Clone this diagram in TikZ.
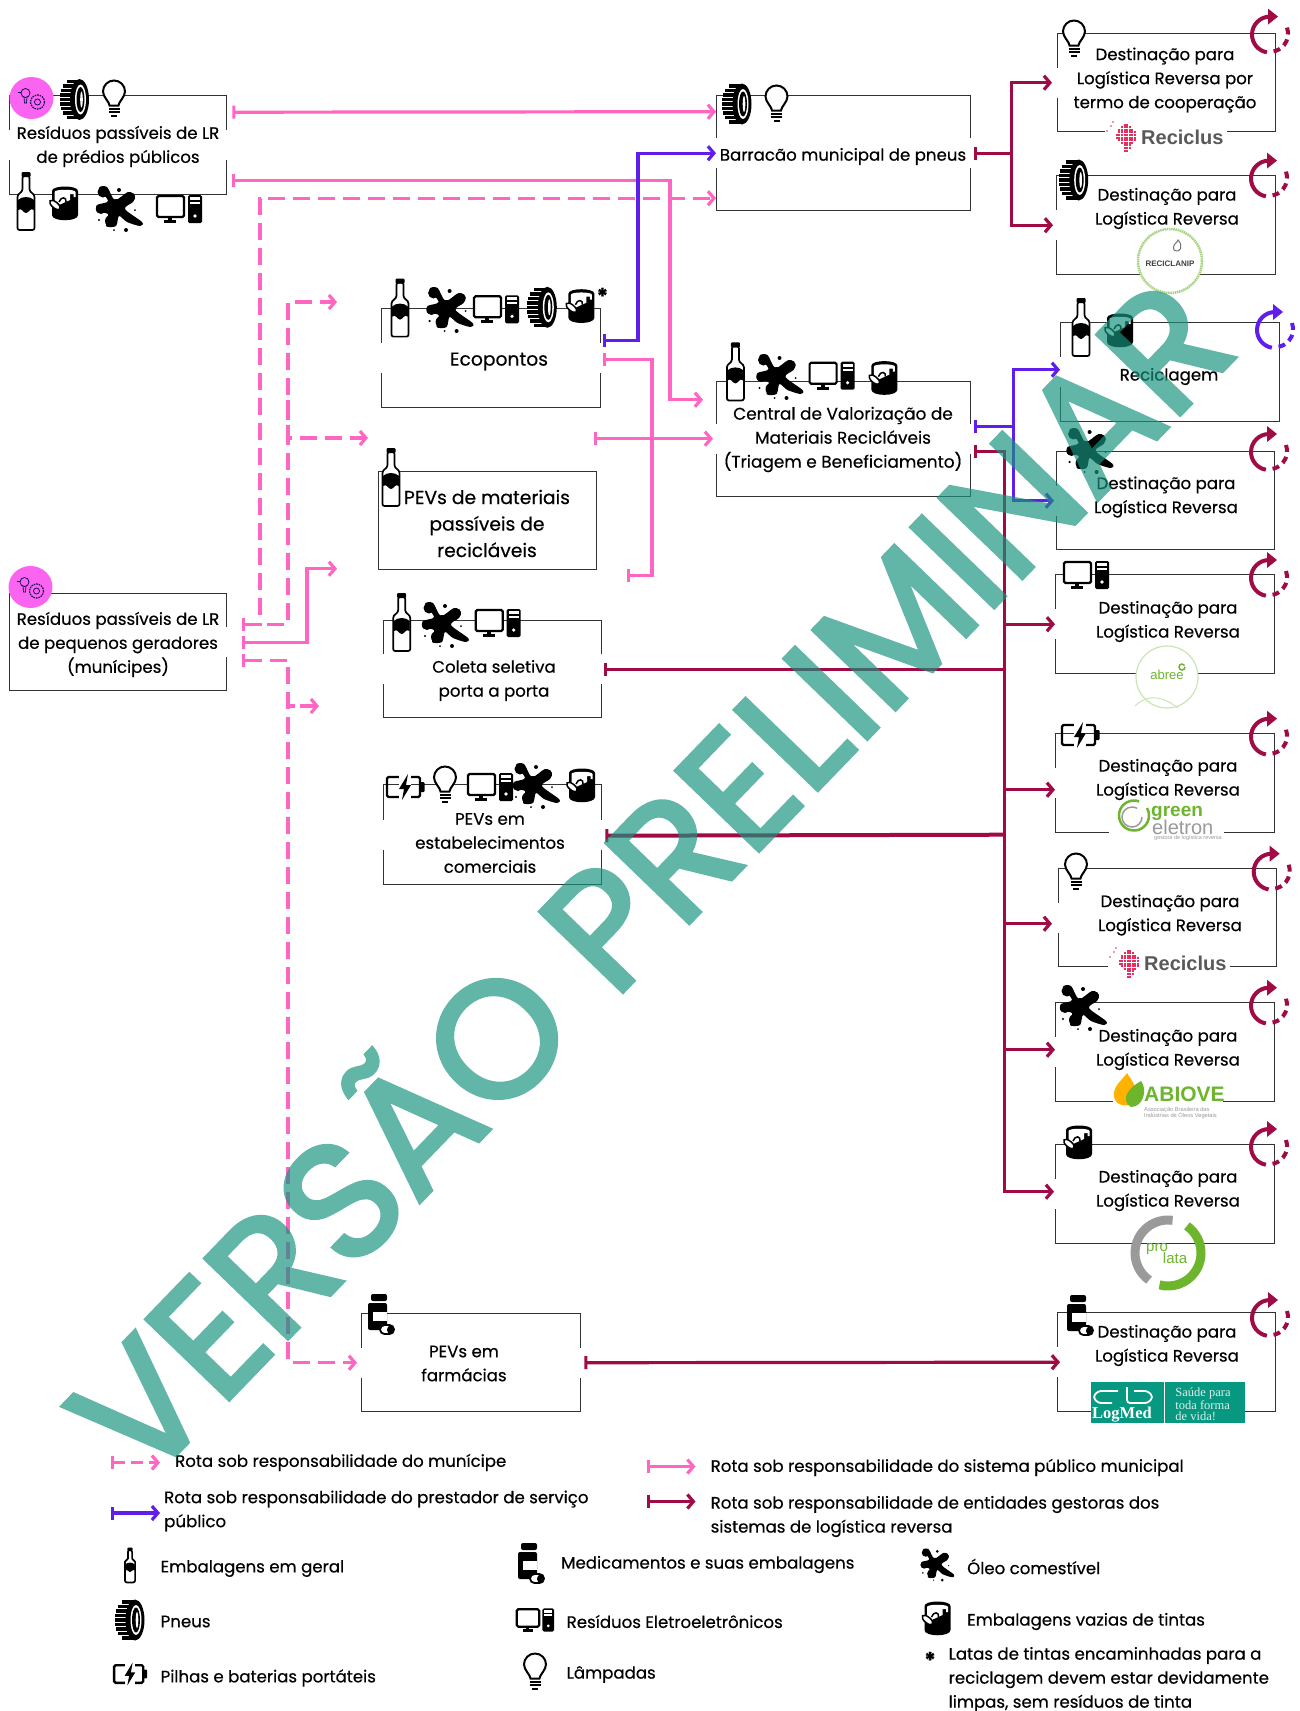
\documentclass[tikz,border=0pt]{standalone}
\usepackage{fontspec}
\setmainfont[FakeBold=0.45]{Poppins}
\newfontfamily\logosans{Liberation Sans}
\newfontfamily\logoserif{Liberation Serif}
\newfontfamily\marcafont[FakeBold=2.6]{Poppins}
\usetikzlibrary{arrows.meta}
\definecolor{rosa}{HTML}{FF66C4}
\definecolor{roxo}{HTML}{5F1EEB}
\definecolor{vinho}{HTML}{A00A45}
\definecolor{marcador}{HTML}{FB64F0}
\definecolor{verdelogo}{HTML}{6CB52D}
\definecolor{verdemarca}{HTML}{16937D}
\definecolor{verdelog}{HTML}{069880}
\definecolor{cinzalogo}{HTML}{9A9A9A}
\definecolor{pontos}{HTML}{E5305F}
\tikzset{ponta/.tip={Straight Barb[length=6pt,width=14pt,line width=3.2pt]}}
\tikzset{barra/.tip={Bar[width=13pt,line width=3pt]}}
\tikzset{caixa/.style={draw=black!80,line width=1.4,minimum width=219,minimum height=99,anchor=north west,inner sep=0}}
\tikzset{rotulo/.style={font=\fontsize{16.6}{24}\selectfont,align=center,inner sep=0,yshift=-1.5pt}}
\tikzset{legenda/.style={font=\fontsize{16.6}{24}\selectfont,align=left,anchor=west,inner sep=0,yshift=-1.5pt}}
\tikzset{rota/.style={line width=3.2,-ponta}}
\tikzset{rotamun/.style={rota,rosa,dash pattern=on 17pt off 8pt}}
\tikzset{rotapub/.style={rota,rosa}}
\tikzset{rotapre/.style={rota,roxo}}
\tikzset{rotagest/.style={rota,vinho}}
\tikzset{garrafa/.pic={
  \draw[fill=white,line width=1.7,rounded corners=2] (-3.5,-25) -- (-3.5,-14) .. controls (-3.5,-8) and (-8.5,-8) .. (-8.5,-2) -- (-8.5,29) -- (8.5,29) -- (8.5,-2) .. controls (8.5,-8) and (3.5,-8) .. (3.5,-14) -- (3.5,-25) -- cycle;
  \fill[rounded corners=1] (-4.5,-29) rectangle (4.5,-24);
  \fill (-8,-1) .. controls (-4,-5) and (4,-5) .. (8,-1) -- (8,9) .. controls (4,6) and (3,12) .. (0,12) .. controls (-3,12) and (-4,6) .. (-8,9) -- cycle;
}}
\tikzset{pneu/.pic={
  \fill (5,0) ellipse (9.5 and 20.5);
  \foreach \f/\w in {-18/-8,-13.5/-12,-9/-14,-4.5/-15,0/-15,4.5/-15,9/-14,13.5/-12,18/-8} \fill (\w,\f-1.8) rectangle (5,\f+1.8);
  \fill[white] (6,0) ellipse (5.5 and 15);
  \fill (6,0) ellipse (4 and 12.5);
  \fill[white] (7,0) ellipse (1.3 and 8);
}}
\tikzset{lampada/.pic={
  \draw[fill=white,line width=2] (-4.5,5.5) .. controls (-4.5,2) and (-11,-3) .. (-11,-8.5) arc (180:360:11) .. controls (11,-3) and (4.5,2) .. (4.5,5.5) -- cycle;
  \fill (-5.5,7.5) rectangle (5.5,9.5);
  \fill (-5.5,11) rectangle (5.5,13);
  \fill (-3,14.5) rectangle (3,16.5);
}}
\tikzset{oleo/.pic={
  \fill plot[smooth cycle,tension=.5] coordinates {(-19,-21)(-11,-22)(-3,-9)(10,-17)(17,-13)(15,-7)(7,0)(24,13)(22,17)(9,13)(1,7)(-2,17)(-12,17)(-10,5)(-21,3)(-21,-4)(-10,-8)};
  \fill (-15,-17) circle (5.5);
  \fill (12,-12) circle (5);
  \fill (-7,12) circle (6);
  \fill (-17,0) circle (5);
  \fill (-2,-2) circle (8);
  \fill (1,-19) circle (2);
  \fill (-19,11) circle (1.2);
  \fill (8,21) circle (2);
  \fill (-4,21) circle (1);
  \fill (17,1) circle (1);
}}
\tikzset{computador/.pic={
  \draw[line width=2.2,fill=white,rounded corners=1.5] (-22,-13) rectangle (5,8);
  \fill (-11,8) rectangle (-7,11);
  \fill (-15,11) rectangle (-3,14);
  \fill[rounded corners=1.5] (9,-14) rectangle (23,14);
  \fill[white] (11,-12) rectangle (21,-9);
  \fill[white] (11,-7) rectangle (21,-5);
  \fill[white] (16,7) circle (1.8);
}}
\tikzset{lata/.pic={
  \fill (-12,-13) -- (-12,11) .. controls (-12,18) and (14,18) .. (14,11) -- (14,-13) .. controls (14,-19) and (-12,-19) .. (-12,-13) -- cycle;
  \fill[white] (-9.5,-12) .. controls (-9.5,-15) and (11.5,-15) .. (11.5,-12) -- (11.5,-7) -- (9.5,-7) -- (9.5,-10) -- (6,-10) -- (6,-4) -- (-9.5,3) -- cycle;
  \draw[line width=1.5,fill=white,rotate around={-40:(-9,1)}] (-9,1) ellipse (6.5 and 3);
  \draw[line width=1.5] (-5,-2) .. controls (-3,-8) and (3,-7) .. (2,-2);
}}
\tikzset{bateria/.pic={
  \draw[line width=2.4,rounded corners=1.5] (-18,-10) rectangle (15,10);
  \fill[rounded corners=1] (15,-5) rectangle (19.5,5);
  \fill[white] (-6,-13) rectangle (6,13);
  \fill (3,-13) -- (-6,2) -- (-1,2) -- (-3,13) -- (6,-2) -- (1,-2) -- cycle;
}}
\tikzset{remedio/.pic={
  \fill[rounded corners=2] (-8,-21) rectangle (8,-14);
  \fill[rounded corners=2] (-11,-12) rectangle (8,15);
  \fill[white] (-6,-3) rectangle (8,6);
  \draw[line width=1.8,fill=white,rounded corners=4.5] (1,10) rectangle (15,19);
  \fill[rounded corners=4] (8,10.5) rectangle (15,19);
}}
\tikzset{ciclo/.pic={
  \draw[line width=4,#1] (1,-18) arc (270:100:18);
  \fill[#1] (-1,-26) -- (9,-18) -- (-1,-10) -- cycle;
  \draw[line width=4,#1,dash pattern=on 7pt off 5pt] (18,-7) arc (-20:85:18);
}}
\tikzset{selo/.pic={
  \fill[marcador] (0,0) ellipse (22 and 21);
  \draw[black!70!blue,line width=.7] (-6,-5) circle (4.5);
  \draw[black!70!blue,line width=.7] (-7.5,-1) -- (-7,5) -- (-5,5) -- (-4.5,-1);
  \draw[black!70!blue,line width=1.2,dash pattern=on 1.5pt off 1pt] (6,4) circle (7);
  \draw[black!70!blue,line width=.7] (6,4) circle (3);
  \draw[black!70!blue,line width=.7] (-14,-6) -- (-11,-6);
}}
\tikzset{reciclusmarca/.pic={
  \fill[white] (-16,-17) rectangle (106,12);
  \foreach \y/\a/\b in {-4/1/2,-3/0/3,-2/-1/4,-1/-1/5,0/-2/5,1/-2/5,2/-1/5,3/0/4,4/1/3,5/1/3,6/1/2}
    \foreach \x in {\a,...,\b} \fill[pontos] (\x*2.6,\y*2.6) rectangle ++(1.9,1.9);
  \fill[pontos] (-14,-3) circle (.9);
  \fill[pontos] (-10,-8) circle (.9);
  \fill[pontos] (-8,-12) circle (.9);
  \node[font=\logosans\fontsize{20}{20}\selectfont\bfseries,text=black!65,anchor=west,inner sep=0] (marca) at (20,3) {Reciclus};
}}

\begin{document}
\begin{tikzpicture}[x=1pt,y=-1pt]
\useasboundingbox (0,0) rectangle (1300,1711);
% caixas
\node[caixa,minimum width=217] (predios) at (9,95) {};
\node[caixa,minimum width=254,minimum height=115] (barracao) at (716,95) {};
\node[caixa,minimum width=218,minimum height=98] (termo) at (1057,33) {};
\node[caixa,minimum width=219] (reciclanip) at (1056,175) {};
\node[caixa] (reciclagem) at (1060,322) {};
\node[caixa,minimum width=218,minimum height=98] (destoleo) at (1056,451) {};
\node[caixa,minimum width=254,minimum height=115] (central) at (716,381) {};
\node[caixa] (ecopontos) at (381,308) {};
\node[caixa,minimum width=218,minimum height=98] (pevmat) at (378,471) {};
\node[caixa,minimum width=218,minimum height=97] (coleta) at (383,620) {};
\node[caixa,minimum width=218,minimum height=100] (pevcom) at (383,784) {};
\node[caixa,minimum width=217,minimum height=97] (geradores) at (9,593) {};
\node[caixa,minimum width=219,minimum height=98] (farmacias) at (361,1313) {};
\node[caixa] (abree) at (1055,574) {};
\node[caixa] (greenel) at (1055,733) {};
\node[caixa,minimum width=218,minimum height=98] (reciclus) at (1058,868) {};
\node[caixa] (abiove) at (1055,1002) {};
\node[caixa] (prolata) at (1055,1144) {};
\node[caixa,minimum width=218] (logmed) at (1057,1312) {};
% aberturas nas laterais
\foreach \c in {predios,barracao,termo,reciclanip,reciclagem,destoleo,central,ecopontos,coleta,pevcom,abree,greenel,reciclus,abiove,prolata,logmed,farmacias}
  \draw[white,line width=3] ([yshift=15pt]\c.west) -- ([yshift=-15pt]\c.west);
\foreach \c in {predios,barracao,central,ecopontos,geradores,coleta,pevcom,farmacias}
  \draw[white,line width=3] ([yshift=15pt]\c.east) -- ([yshift=-15pt]\c.east);
% logos
\pic (rc1) at (1121,134) {reciclusmarca};
\pic (rc2) at (1124,960) {reciclusmarca};
\draw[verdelogo!60,fill=white,line width=2.5,dash pattern=on 1.5pt off .7pt] (1170,261) circle (32);
\draw[black!55,line width=1] (1174,250) .. controls (1172,243) and (1178,243) .. (1178,240) .. controls (1184,246) and (1180,254) .. (1174,250);
\node[font=\logosans\fontsize{8}{8}\selectfont\bfseries,text=black!75,inner sep=0] (logoanip) at (1170,264) {RECICLANIP};
\draw[verdelogo!35,fill=white,line width=1.2] (1167,677) circle (31);
\draw[verdelogo!35,line width=1] (1135,706) .. controls (1150,692) and (1165,698) .. (1178,708);
\node[font=\logosans\fontsize{13}{13}\selectfont,text=verdelogo,inner sep=0] (logoabree) at (1167,675) {abree};
\draw[verdelogo,line width=1.5] (1185,667) arc (0:330:3);
\fill[white] (1109,825) rectangle (1224,840);
\draw[verdelogo,line width=2.5] (1147,808) arc (-30:290:15);
\draw[cinzalogo,line width=1.5] (1142,817) arc (0:300:10);
\node[font=\logosans\fontsize{19}{19}\selectfont\bfseries,text=verdelogo,anchor=west,inner sep=0] (logogreen) at (1151,813) {green};
\node[font=\logosans\fontsize{20}{20}\selectfont,text=cinzalogo,anchor=west,inner sep=0] (logoeletron) at (1152,827) {eletron};
\node[font=\logosans\fontsize{5.5}{5.5}\selectfont,text=cinzalogo,anchor=west,inner sep=0] (logogestora) at (1154,838) {gestora de logística reversa};
\fill[white] (1113,1098) rectangle (1223,1120);
\fill[orange!60!yellow] (1127,1073) .. controls (1135,1085) and (1142,1095) .. (1132,1104) .. controls (1124,1108) and (1112,1104) .. (1114,1092) .. controls (1115,1085) and (1122,1080) .. (1127,1073);
\fill[verdelogo] (1141,1081) .. controls (1148,1090) and (1143,1107) .. (1131,1107) .. controls (1120,1100) and (1128,1088) .. (1141,1081);
\node[font=\logosans\fontsize{21}{21}\selectfont\bfseries,text=verdelogo,anchor=west,inner sep=0] (logoabiove) at (1144,1094) {ABIOVE};
\node[font=\logosans\fontsize{5.7}{6.6}\selectfont,text=cinzalogo,align=left,anchor=west,inner sep=0] (logoabsub) at (1144,1113) {Associação Brasileira das\\Indústrias de Óleos Vegetais};
\draw[cinzalogo,line width=9] (1168,1253) ++(278:33) arc (278:125:33);
\draw[verdelogo,line width=9] (1168,1253) ++(-55:33) arc (-55:105:33);
\node[font=\logosans\fontsize{15}{15}\selectfont,text=verdelogo,inner sep=0] (logopro) at (1157,1249) {pro};
\node[font=\logosans\fontsize{15}{15}\selectfont,text=verdelogo,inner sep=0] (logolata) at (1175,1258) {lata};
\fill[verdelog] (1091,1382) rectangle (1245,1423);
\draw[white,line width=1] (1164,1382) -- (1164,1423);
\draw[white,line width=1.8,rounded corners=3] (1118,1391) -- (1098,1391) -- (1093,1397) -- (1098,1403) -- (1112,1403);
\draw[white,line width=1.8,rounded corners=3] (1127,1387) -- (1127,1403) -- (1148,1403) -- (1153,1397) -- (1148,1391) -- (1134,1391);
\node[font=\logoserif\fontsize{16.5}{16.5}\selectfont\bfseries,text=white,inner sep=0] (logolog) at (1122,1415) {LogMed};
\node[font=\logoserif\fontsize{12.5}{11}\selectfont,text=white!85!verdelog,align=left,inner sep=0] (logosaude) at (1203,1404) {Saúde para\\toda forma\\de vida!};
% textos
\node[rotulo] (tpredios) at (118,145) {Resíduos passíveis de LR\\de prédios públicos};
\node[rotulo] (tbarracao) at (843,155) {Barracão municipal de pneus};
\node[rotulo] (ttermo) at (1165,78.5) {Destinação para\\Logística Reversa por\\termo de cooperação};
\node[rotulo] (tanip) at (1167,207) {Destinação para\\Logística Reversa};
\node[rotulo] (treciclagem) at (1169,375) {Reciclagem};
\node[rotulo] (toleo) at (1166,495.5) {Destinação para\\Logística Reversa};
\node[rotulo,font=\fontsize{16.9}{24}\selectfont] (tcentral) at (843,438) {Central de Valorização de\\Materiais Recicláveis\\(Triagem e Beneficiamento)};
\node[rotulo,font=\fontsize{18.7}{24}\selectfont] (tecopontos) at (499,360) {Ecopontos};
\node[rotulo,font=\fontsize{18.7}{26.5}\selectfont] (tpevmat) at (487,522) {PEVs de materiais\\passíveis de\\recicláveis};
\node[rotulo] (tcoleta) at (494,679) {Coleta seletiva\\porta a porta};
\node[rotulo] (tpevcom) at (490,841.5) {PEVs em\\estabelecimentos\\comerciais};
\node[rotulo] (tgeradores) at (118,643) {Resíduos passíveis de LR\\de pequenos geradores\\(munícipes)};
\node[rotulo] (tfarmacias) at (464,1362) {PEVs em\\farmácias};
\node[rotulo] (tabree) at (1168,620) {Destinação para\\Logística Reversa};
\node[rotulo] (tgreen) at (1168,778) {Destinação para\\Logística Reversa};
\node[rotulo] (treciclus) at (1170,913.5) {Destinação para\\Logística Reversa};
\node[rotulo] (tabiove) at (1168,1048) {Destinação para\\Logística Reversa};
\node[rotulo] (tprolata) at (1168,1189) {Destinação para\\Logística Reversa};
\node[rotulo] (tlogmed) at (1167,1344) {Destinação para\\Logística Reversa};
% icones
\pic at (31.5,98) {selo};
\pic at (30.5,587) {selo};
\pic at (74.5,99.5) {pneu};
\pic at (114,100) {lampada};
\pic at (26,201) {garrafa};
\pic at (64,204) {lata};
\pic at (118,209) {oleo};
\pic at (179,209) {computador};
\pic at (737,104) {pneu};
\pic at (776.5,105) {lampada};
\pic at (1074,40) {lampada};
\pic at (1073.7,180) {pneu};
\pic at (1081,327) {garrafa};
\pic at (1119,331) {lata};
\pic at (1088.6,451) {oleo};
\pic at (735.4,371.4) {garrafa};
\pic at (778.5,377) {oleo};
\pic at (831.6,375.7) {computador};
\pic at (883.4,378.6) {lata};
\pic at (400,307.6) {garrafa};
\pic at (448.6,310) {oleo};
\pic at (496,309.3) {computador};
\pic at (542.3,307.3) {pneu};
\pic at (580.4,306.7) {lata};
\node[font=\fontsize{22}{22}\selectfont\bfseries,inner sep=0] (asterisco) at (602.4,296) {*};
\pic at (391,477) {garrafa};
\pic at (401.7,622) {garrafa};
\pic at (444,625) {oleo};
\pic at (497.7,623) {computador};
\pic at (405,787) {bateria};
\pic at (445,786) {lampada};
\pic at (490,787) {computador};
\pic at (535,786) {oleo};
\pic at (581,786) {lata};
\pic at (379,1315) {remedio};
\pic at (1086,575) {computador};
\pic at (1080,735) {bateria};
\pic at (1076,873) {lampada};
\pic at (1082,1008) {oleo};
\pic at (1078,1143) {lata};
\pic at (1078,1316) {remedio};
\foreach \a/\b in {1269/34.6,1268/178.6,1268/452,1268/578,1268/736.7,1270.7/871.7,1268/1005.7,1268/1147,1269/1318}
  \pic at (\a,\b) {ciclo=vinho};
\pic at (1274,330) {ciclo=roxo};
% rotas
\coordinate (troncopub) at (670,300);
\coordinate (troncomuna) at (260,400);
\coordinate (troncomunb) at (288,400);
\coordinate (troncomunc) at (307,600);
\coordinate (troncopre) at (638,250);
\coordinate (troncoeco) at (652,450);
\coordinate (troncopneus) at (1011.5,150);
\coordinate (troncorec) at (1013.6,430);
\coordinate (troncogest) at (1004.5,800);
\coordinate (ramofarm) at (319,706);
\draw[rotapub,barra-ponta] ([shift={(5,-33)}]predios.east) -- ([shift={(0,-41.5)}]barracao.west);
\draw[rotapub,barra-ponta] ([shift={(5,35)}]predios.east) -| (troncopub) |- ([shift={(-13,-39.5)}]central.west);
\draw[rotamun,barra-ponta] ([shift={(15,-17.5)}]geradores.east) -| (troncomuna) |- ([yshift=-45]barracao.west);
\draw[rotamun] ([shift={(15,-17.5)}]geradores.east) -| (troncomunb) |- ([shift={(-44,-6)}]ecopontos.north west);
\draw[rotamun] (troncomunb) |- ([shift={(-10,-33)}]pevmat.north west);
\draw[rotapub,barra-ponta] ([xshift=15pt]geradores.east) -| (troncomunc) |- ([shift={(-46,-100.5)}]coleta.west);
\draw[rotamun,barra-ponta] ([shift={(15,18.5)}]geradores.east) -| (troncomunb |- farmacias.west) -- ([xshift=-4pt]farmacias.west);
\draw[rotamun,dash pattern=on 7pt off 5pt on 20pt off 1pt] (troncomunb |- ramofarm) -- (ramofarm);
\draw[rotapre,barra-ponta] ([shift={(2,-18)}]ecopontos.east) -| (troncopre) |- ([yshift=0]barracao.west);
\draw[rotapub,barra-barra] ([shift={(2,1)}]ecopontos.east) -| (troncoeco) |- ([shift={(30,55)}]pevmat.east);
\draw[rotapub,barra-ponta] ([shift={(-3,-82)}]pevmat.east) -- ([shift={(-3,-0.5)}]central.west);
\draw[rotapre,barra-ponta] ([shift={(3,-12.5)}]central.east) -| (troncorec) |- ([yshift=2.5pt]reciclagem.west);
\draw[rotapre] (troncorec) |- ([xshift=-2pt]destoleo.west);
\draw[rotagest,barra-ponta] ([xshift=3pt]barracao.east) -| (troncopneus) |- ([xshift=-5pt]termo.west);
\draw[rotagest] (troncopneus) |- ([xshift=-3pt]reciclanip.west);
\draw[rotagest,barra-ponta] ([shift={(3,12)}]central.east) -| (troncogest) |- ([shift={(-1,-2.5)}]prolata.west);
\draw[rotagest] (troncogest |- abree.west) -- (abree.west);
\draw[rotagest] ([yshift=-6.5pt]troncogest |- greenel.west) -- ([yshift=-6.5pt]greenel.west);
\draw[rotagest] ([yshift=-6pt]troncogest |- reciclus.west) -- ([shift={(-6,6)}]reciclus.west);
\draw[rotagest] ([yshift=2.5pt]troncogest |- abiove.west) -- ([yshift=2.5pt]abiove.west);
\draw[rotagest,barra-] ([xshift=2pt]coleta.east) -- (troncogest |- coleta.east);
\draw[rotagest,line width=4,barra-] ([shift={(3,1)}]pevcom.east) -- (troncogest |- pevcom.east);
\draw[rotagest,barra-ponta] ([xshift=3pt]farmacias.east) -- ([xshift=3pt]logmed.west);
% legenda
\node[legenda] (lmun) at (175,1461) {Rota sob responsabilidade do munícipe};
\node[legenda] (lpre) at (164,1509.5) {Rota sob responsabilidade do prestador de serviço\\público};
\node[legenda] (lpub) at (710.5,1466) {Rota sob responsabilidade do sistema público municipal};
\node[legenda] (lgest) at (710.5,1515) {Rota sob responsabilidade de entidades gestoras dos\\sistemas de logística reversa};
\draw[rotamun,barra-ponta,dash pattern=on 12pt off 6pt] ([xshift=-64pt]lmun.west) -- ([xshift=-15pt]lmun.west);
\draw[rotapre,barra-ponta] ([shift={(-53,2)}]lpre.west) -- ([shift={(-4,2)}]lpre.west);
\draw[rotapub,barra-ponta] ([shift={(-64,-1)}]lpub.west) -- ([shift={(-15,-1)}]lpub.west);
\draw[rotagest,barra-ponta] ([shift={(-64,-15)}]lgest.west) -- ([shift={(-15,-15)}]lgest.west);
\pic[scale=.6] at (130,1565) {garrafa};
\pic at (130,1620) {pneu};
\pic[scale=.88] at (130,1674) {bateria};
\pic at (529,1564) {remedio};
\pic[scale=.83] at (535,1620) {computador};
\pic at (535,1673) {lampada};
\pic[scale=.72] at (936.5,1565) {oleo};
\pic at (936.5,1619) {lata};
\node[legenda] (lemb) at (160.5,1567) {Embalagens em geral};
\node[legenda] (lpneus) at (160.5,1620) {Pneus};
\node[legenda] (lpilhas) at (160.5,1676.5) {Pilhas e baterias portáteis};
\node[legenda] (lmed) at (561,1563) {Medicamentos e suas embalagens};
\node[legenda] (lele) at (566.5,1620) {Resíduos Eletroeletrônicos};
\node[legenda] (llamp) at (566.5,1673) {Lâmpadas};
\node[legenda] (loleo) at (967,1565) {Óleo comestível};
\node[legenda] (llata) at (967,1620) {Embalagens vazias de tintas};
\node[font=\fontsize{22}{22}\selectfont\bfseries,inner sep=0] (last) at (930,1660) {*};
\node[legenda] (laviso) at (948.5,1678) {Latas de tintas encaminhadas para a\\reciclagem devem estar devidamente\\limpas, sem resíduos de tinta};
% marca d'agua
\begin{scope}[transparency group,opacity=.68]
\node[font=\marcafont\fontsize{165}{165}\selectfont,text=verdemarca,rotate=46,anchor=base,inner sep=0] (versao) at (692,920) {VERSÃO PRELIMINAR};
\end{scope}
\end{tikzpicture}
\end{document}
